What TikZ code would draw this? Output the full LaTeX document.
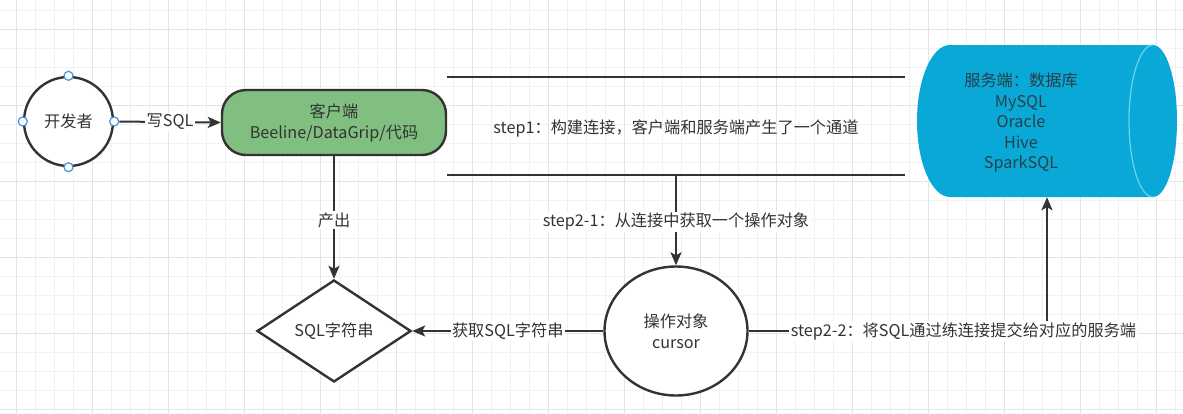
\documentclass[tikz,border=0pt]{standalone}
\usepackage{fontspec}
\setmainfont{Noto Sans CJK SC}
\usetikzlibrary{arrows.meta,shapes.geometric}
\definecolor{ink}{HTML}{333333}
\definecolor{gridminor}{HTML}{F1F1F1}
\definecolor{gridmajor}{HTML}{E4E4E4}
\definecolor{clientgreen}{HTML}{80BF80}
\definecolor{dbblue}{HTML}{0AA8D6}
\definecolor{dbedge}{HTML}{6CD3EE}
\definecolor{dbtext}{HTML}{25404A}
\definecolor{handle}{HTML}{4A90E2}
\tikzset{
  txt/.style={font=\fontsize{16.2}{21}\selectfont, text=ink, align=center},
  circ/.style={circle, draw=ink, line width=2.4pt, fill=white, txt, inner sep=0pt},
  clientbox/.style={rectangle, rounded corners=24pt, draw=ink, line width=2.4pt, fill=clientgreen, txt, inner sep=0pt, minimum width=224pt, minimum height=65pt},
  sqlbox/.style={diamond, aspect=1.5, draw=ink, line width=2.4pt, fill=white, txt, inner sep=0pt, minimum width=154pt, minimum height=102pt},
  curbox/.style={ellipse, draw=ink, line width=2.4pt, fill=white, txt, inner sep=0pt, minimum width=143pt, minimum height=129pt},
  conn/.style={draw=ink, line width=2pt},
  arr/.style={conn, -{Stealth[length=13pt, width=11pt, inset=3pt]}},
  lbl/.style={txt, fill=white, inner sep=1.5pt},
  hdl/.style={circle, draw=handle, fill=white, line width=1.2pt, minimum size=9pt, inner sep=0pt},
}
\begin{document}
\begin{tikzpicture}[x=1pt,y=-1pt]
\useasboundingbox (0,0) rectangle (1183,413);
\fill[white] (0,0) rectangle (1183,413);
% grid
\foreach \i in {0,...,63} {\draw[gridminor, line width=0.8pt] ({-3+19*\i},0) -- ++(0,413);}
\foreach \i in {0,...,21} {\draw[gridminor, line width=0.8pt] (0,{10+19*\i}) -- ++(1183,0);}
\foreach \i in {0,...,15} {\draw[gridmajor, line width=1pt] ({16+76*\i},0) -- ++(0,413);}
\foreach \i in {0,...,5} {\draw[gridmajor, line width=1pt] (0,{29+76*\i}) -- ++(1183,0);}

% server cylinder (drawn directly), with a named anchor node
\node[minimum width=260pt, minimum height=152pt, inner sep=0pt] (db) at (1047,121) {};
\fill[dbblue] (950,45) -- (1153,45) arc[start angle=-90, end angle=90, x radius=24, y radius=76]
  -- (950,197) arc[start angle=90, end angle=270, x radius=33, y radius=76] -- cycle;
\draw[dbedge, line width=1.2pt] (1153,45) arc[start angle=270, end angle=90, x radius=24, y radius=76];
\node[txt, text=dbtext, font=\fontsize{16.2}{20.5}\selectfont] (dbt) at (1021,123) {服务端：数据库\\MySQL\\Oracle\\Hive\\SparkSQL};

% nodes
\node[circ, minimum size=89pt] (dev) at (68.5,121.5) {开发者};
\node[hdl] (h1) at (dev.north) {};
\node[hdl] (h2) at (dev.south) {};
\node[hdl] (h3) at (dev.west) {};
\node[hdl] (h4) at (dev.east) {};
\node[clientbox] (cli) at (334,122.5) {客户端\\Beeline/DataGrip/代码};
\node[sqlbox] (sql) at (334,331) {SQL字符串};
\node[curbox] (cur) at (676,331) {操作对象\\cursor};

% channel lines
\coordinate (l1a) at (447,77);
\coordinate (l1b) at (905,77);
\coordinate (l2a) at (447,175);
\coordinate (l2b) at (905,175);
\coordinate (ch) at (676,175);
\draw[conn] (l1a) -- (l1b);
\draw[conn] (l2a) -- (l2b);
\node[txt] (s1) at (676,128) {step1：构建连接，客户端和服务端产生了一个通道};

% connectors
\draw[arr] (h4) -- node[lbl] {写SQL} (cli.west);
\draw[arr] (cli.south) -- node[lbl, pos=0.52] {产出} (sql.north);
\draw[arr] (cur.west) -- node[lbl] {获取SQL字符串} (sql.east);
\draw[arr] (ch) -- node[lbl, pos=0.52] {step2-1：从连接中获取一个操作对象} (cur.north);
\draw[arr] (cur.east) -| node[lbl, pos=0.36] {step2-2：将SQL通过练连接提交给对应的服务端} (db.south);
\end{tikzpicture}
\end{document}
